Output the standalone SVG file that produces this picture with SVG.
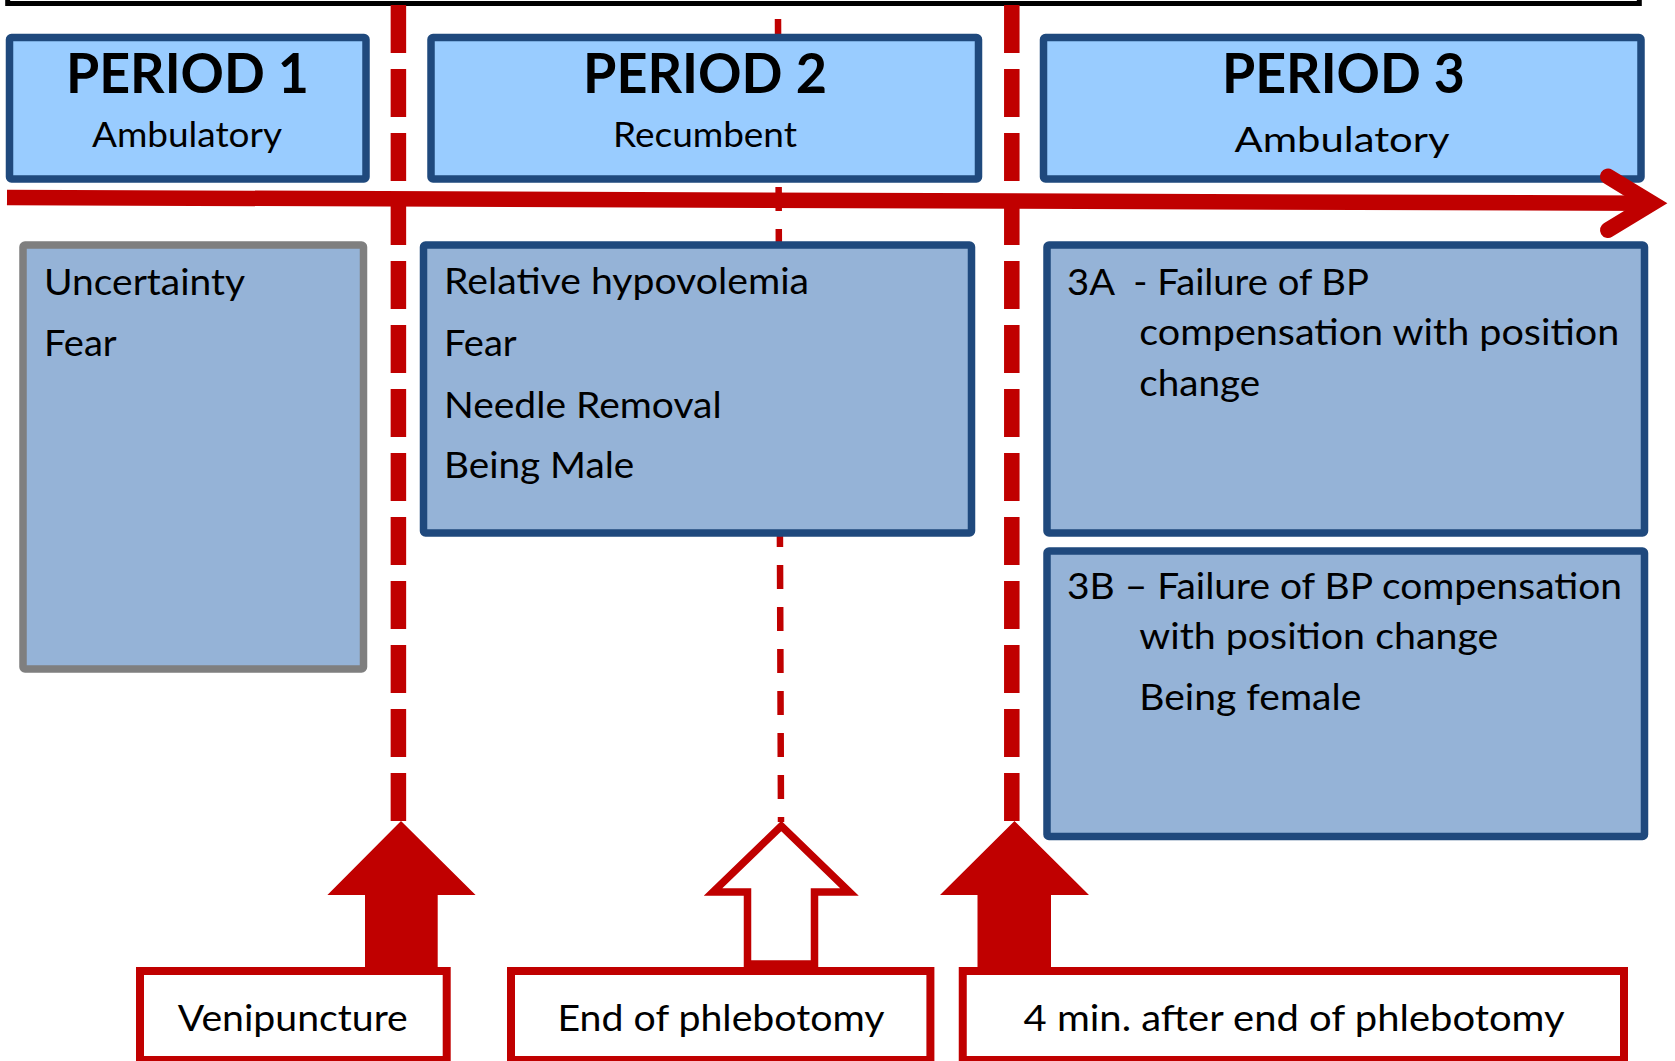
<svg xmlns="http://www.w3.org/2000/svg" width="1675" height="1061" viewBox="0 0 1675 1061">
<style>
.hdr{fill:#99CCFF;stroke:#1F497D;stroke-width:7.5}
.cnt{fill:#95B3D7;stroke:#1F497D;stroke-width:7.5}
.cntg{fill:#95B3D7;stroke:#7F7F7F;stroke-width:7.5}
.lbl{fill:#FFFFFF;stroke:#C00000;stroke-width:8}
.t{font-family:Lato,'Liberation Sans',sans-serif;fill:#000}
.title{font-weight:700;font-size:56px;text-anchor:middle}
.sub{font-size:35px;text-anchor:middle}
.body{font-size:37px}
.mid{text-anchor:middle}
.vdash{stroke:#C00000;stroke-width:15.5;stroke-dasharray:48 16;fill:none}
.thin{stroke:#C00000;stroke-width:6.5;stroke-dasharray:24 18;fill:none}
.solid{fill:#C00000}
</style>
<rect x="0" y="0" width="1675" height="1061" fill="#FFFFFF"/>
<rect id="frame" x="7.7" y="-50" width="1631.6" height="53.5" fill="none" stroke="#000" stroke-width="5"/>

<g id="dividers">
  <line class="vdash" x1="398.4" y1="5" x2="398.4" y2="821"/>
  <line class="thin" x1="778" y1="19" x2="781" y2="822"/>
  <line class="vdash" x1="1011.8" y1="5" x2="1011.8" y2="821"/>
</g>

<g id="period1">
  <rect class="hdr" x="9.5" y="37.5" width="356.5" height="141.5" rx="2"/>
  <text class="t title" x="187.5" y="93.3" textLength="243" lengthAdjust="spacingAndGlyphs">PERIOD 1</text>
  <text class="t sub" x="187" y="147" textLength="190" lengthAdjust="spacingAndGlyphs">Ambulatory</text>
</g>
<g id="period2">
  <rect class="hdr" x="431" y="37.5" width="547.5" height="141.5" rx="2"/>
  <text class="t title" x="705" y="93.3" textLength="244" lengthAdjust="spacingAndGlyphs">PERIOD 2</text>
  <text class="t sub" x="705" y="147" textLength="184" lengthAdjust="spacingAndGlyphs">Recumbent</text>
</g>
<g id="period3">
  <rect class="hdr" x="1043.5" y="37.5" width="597.5" height="141.5" rx="2"/>
  <text class="t title" x="1343.5" y="93.3" textLength="243" lengthAdjust="spacingAndGlyphs">PERIOD 3</text>
  <text class="t sub" x="1342" y="152" font-size="39.5" textLength="215" lengthAdjust="spacingAndGlyphs">Ambulatory</text>
</g>

<g id="factors1">
  <rect class="cntg" x="23" y="245" width="340.5" height="424" rx="2"/>
  <text class="t body" x="44" y="295" textLength="201" lengthAdjust="spacingAndGlyphs">Uncertainty</text>
  <text class="t body" x="44" y="356" textLength="72.7" lengthAdjust="spacingAndGlyphs">Fear</text>
</g>
<g id="factors2">
  <rect class="cnt" x="423.5" y="245" width="548" height="288" rx="2"/>
  <text class="t body" x="444" y="294.3" textLength="365" lengthAdjust="spacingAndGlyphs">Relative hypovolemia</text>
  <text class="t body" x="444" y="356" textLength="72.7" lengthAdjust="spacingAndGlyphs">Fear</text>
  <text class="t body" x="444" y="417.7" textLength="277.7" lengthAdjust="spacingAndGlyphs">Needle Removal</text>
  <text class="t body" x="444" y="478.3" textLength="190.3" lengthAdjust="spacingAndGlyphs">Being Male</text>
</g>
<g id="factors3a">
  <rect class="cnt" x="1047" y="245" width="597.5" height="288" rx="2"/>
  <text class="t body" x="1067" y="295" xml:space="preserve" textLength="302" lengthAdjust="spacingAndGlyphs">3A  - Failure of BP</text>
  <text class="t body" x="1139.3" y="345" textLength="480" lengthAdjust="spacingAndGlyphs">compensation with position</text>
  <text class="t body" x="1139.3" y="395.7" textLength="120.7" lengthAdjust="spacingAndGlyphs">change</text>
</g>
<g id="factors3b">
  <rect class="cnt" x="1047" y="551" width="597.5" height="285.5" rx="2"/>
  <text class="t body" x="1067" y="599" textLength="555" lengthAdjust="spacingAndGlyphs">3B – Failure of BP compensation</text>
  <text class="t body" x="1139.3" y="649" textLength="359" lengthAdjust="spacingAndGlyphs">with position change</text>
  <text class="t body" x="1139.3" y="710" textLength="222" lengthAdjust="spacingAndGlyphs">Being female</text>
</g>

<g id="connectors">
  <line x1="7" y1="197.5" x2="1652" y2="203.3" stroke="#C00000" stroke-width="15.5"/>
  <polyline points="1608,176.5 1652,203.3 1608,230" fill="none" stroke="#C00000" stroke-width="16" stroke-linecap="round" stroke-linejoin="miter"/>
  <polygon class="solid" points="401,821 475.6,895 437.7,895 437.7,972 365,972 365,895 327.4,895"/>
  <polygon points="781.3,826 849.5,892 814.5,892 814.5,964 747.5,964 747.5,892 713,892" fill="#FFFFFF" stroke="#C00000" stroke-width="7.5" stroke-linejoin="miter"/>
  <polygon class="solid" points="1014.5,821 1089,895 1051,895 1051,972 977.5,972 977.5,895 940,895"/>
</g>

<g id="venipuncture">
  <rect class="lbl" x="140" y="971" width="306.7" height="89"/>
  <text class="t body mid" x="292.8" y="1030.7" textLength="230" lengthAdjust="spacingAndGlyphs">Venipuncture</text>
</g>
<g id="end-phlebotomy">
  <rect class="lbl" x="511" y="971" width="419.4" height="89"/>
  <text class="t body mid" x="721" y="1030.7" textLength="327" lengthAdjust="spacingAndGlyphs">End of phlebotomy</text>
</g>
<g id="four-min">
  <rect class="lbl" x="962.75" y="971" width="661.25" height="89"/>
  <text class="t body mid" x="1294" y="1030.7" textLength="541" lengthAdjust="spacingAndGlyphs">4 min. after end of phlebotomy</text>
</g>
</svg>
